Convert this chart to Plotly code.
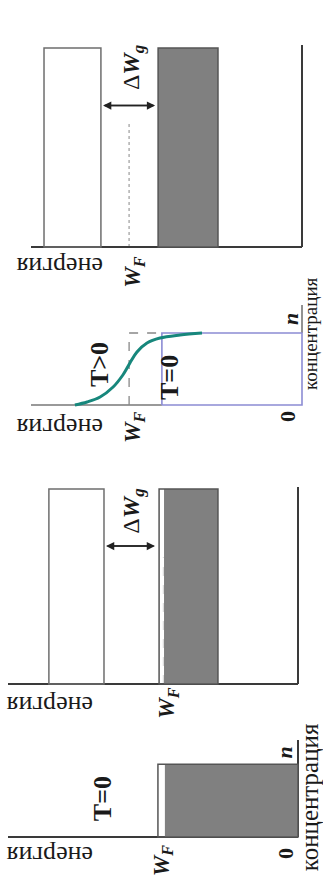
import plotly.graph_objects as go

W, H = 323, 884
FONT = "Liberation Serif"

# ---------------- data (energy in arbitrary units, concentration normalised) -------------
E_MAX = 10
# Panel A: intrinsic semiconductor, W_F in mid gap
a_cb = [7.42, 9.52]
a_vb = [3.10, 5.31]
a_band_top = 0.985
a_wf = 6.38
a_wf_top = 0.62
a_arrow = [7.34, 5.42]
a_arrow_c = 0.70
# Panel B: Fermi distribution
b_step_E = 5.17
b_n = 0.72
b_wf = 6.38
b_curve_E = [8.38, 7.93, 7.45, 6.97, 6.61, 6.35, 6.09, 5.72, 5.24, 4.50, 3.69]
b_curve_c = [0.00, 0.03, 0.08, 0.18, 0.30, 0.42, 0.53, 0.62, 0.67, 0.70, 0.72]
# Panel C: W_F at top of valence band
c_cb = [6.69, 8.59]
c_vb = [2.76, 4.79]
c_vb_fill_top = 4.62
c_band_top = 0.99
c_wf = 4.64
c_wf_top = 0.645
c_arrow = [6.62, 4.93]
c_arrow_c = 0.70
# Panel D: metal at T=0
d_fill = [0.0, 4.83]
d_fill_inner = 4.59
d_n = 0.75

fig = go.Figure()
layout_axes = {}

# pixel geometry of each panel: (corner x, left end x, corner y, top y)
GEOM = {
    1: (302, 31, 247, 45),
    2: (302, 31, 405, 305),
    3: (298, 8, 684, 487),
    4: (298, 8, 837, 740),
}

def setup(i):
    px0, px1, py0, py1 = GEOM[i]
    sx = (px0 - px1) / E_MAX
    sy = (py0 - py1)
    dl, dr = 0, W
    dt, db = max(0, py1 - 12), min(H, py0 + 45)
    sfx = "" if i == 1 else str(i)
    layout_axes["xaxis" + sfx] = dict(domain=[dl / W, dr / W],
                                      range=[(px0 - dl) / sx, (px0 - dr) / sx], visible=False,
                                      anchor="y" + sfx, fixedrange=True)
    layout_axes["yaxis" + sfx] = dict(domain=[1 - db / H, 1 - dt / H],
                                      range=[(py0 - db) / sy, (py0 - dt) / sy], visible=False,
                                      anchor="x" + sfx, fixedrange=True)
    return "x" + sfx, "y" + sfx

def line(xr, yr, xs, ys, color, width=1.6, dash="solid", shape="linear"):
    fig.add_trace(go.Scatter(x=xs, y=ys, xaxis=xr, yaxis=yr, mode="lines",
                             line=dict(color=color, width=width, dash=dash, shape=shape),
                             hoverinfo="skip", showlegend=False))

def rect(xr, yr, e0, e1, c1, line_color, fillcolor=None, width=1.5):
    fig.add_shape(type="rect", xref=xr, yref=yr, x0=e0, x1=e1, y0=0, y1=c1,
                  line=dict(color=line_color, width=width),
                  fillcolor=fillcolor if fillcolor else "rgba(0,0,0,0)")

annots = []
def text(xr, yr, e, c, s, size=24, angle=-90, color="#1a1a1a"):
    annots.append(dict(xref=xr, yref=yr, x=e, y=c, text=s, showarrow=False,
                       textangle=angle, xanchor="center", yanchor="middle",
                       font=dict(family=FONT, size=size, color=color)))

def arrow(xr, yr, e0, e1, c):
    for a, b in ((e0, e1), (e1, e0)):
        annots.append(dict(xref=xr, yref=yr, axref=xr, ayref=yr, x=b, y=c, ax=a, ay=c,
                           text="", showarrow=True, arrowhead=2, arrowsize=1.1,
                           arrowwidth=1.5, arrowcolor="#222"))

AX = "#3a3a3a"
BAND = "#6e6e6e"
FILL = "#808080"
WF_LBL = "<b><i>W</i></b><b><sub><i>F</i></sub></b>"
DW_LBL = "Δ<b><i>W</i></b><b><sub><i>g</i></sub></b>"

# ---------------- Panel A ----------------
xr, yr = setup(1)
rect(xr, yr, a_cb[0], a_cb[1], a_band_top, BAND)
rect(xr, yr, a_vb[0], a_vb[1], a_band_top, "#555", FILL)
line(xr, yr, [a_wf, a_wf], [0, a_wf_top], "#aaaaaa", 1.4, "dot")
line(xr, yr, [0, E_MAX], [0, 0], AX, 2)
line(xr, yr, [0, 0], [0, 1], AX, 2)
arrow(xr, yr, a_arrow[0], a_arrow[1], a_arrow_c)
text(xr, yr, 6.24, 0.89, DW_LBL, 24)
text(xr, yr, 6.18, -0.125, WF_LBL, 23)
text(xr, yr, 8.93, -0.10, "енергия", 26, 180)

# ---------------- Panel B ----------------
xr, yr = setup(2)
line(xr, yr, [b_step_E, E_MAX], [0, 0], "#777777", 1.6)
line(xr, yr, [b_wf, b_wf, b_step_E], [0, b_n, b_n], "#888888", 1.3, "dash")
line(xr, yr, [0, 0], [b_n, 1], "#777777", 1.6)
line(xr, yr, [b_step_E, b_step_E, 0, 0, b_step_E], [0, b_n, b_n, 0, 0], "#8c8cd4", 1.6)
line(xr, yr, b_curve_E, b_curve_c, "#17877c", 3, shape="spline")
text(xr, yr, 7.45, 0.40, "<b>T&gt;0</b>", 26)
text(xr, yr, 4.87, 0.27, "<b>T=0</b>", 26)
text(xr, yr, 0.41, 0.86, "<b><i>n</i></b>", 22)
text(xr, yr, 0.52, -0.11, "<b>0</b>", 22)
text(xr, yr, 6.20, -0.22, WF_LBL, 23)
text(xr, yr, 8.93, -0.22, "енергия", 26, 180)
text(xr, yr, -0.33, 0.72, "концентрация", 19)

# ---------------- Panel C ----------------
xr, yr = setup(3)
rect(xr, yr, c_cb[0], c_cb[1], c_band_top, BAND)
rect(xr, yr, c_vb[0], c_vb_fill_top, c_band_top, "rgba(0,0,0,0)", FILL, 0)
rect(xr, yr, c_vb[0], c_vb[1], c_band_top, "#555")
line(xr, yr, [c_wf, c_wf], [0, c_wf_top], "#dddddd", 1.4, "dash")
line(xr, yr, [0, E_MAX], [0, 0], AX, 2)
line(xr, yr, [0, 0], [0, 1], AX, 2)
arrow(xr, yr, c_arrow[0], c_arrow[1], c_arrow_c)
text(xr, yr, 5.69, 0.88, DW_LBL, 24)
text(xr, yr, 4.48, -0.10, WF_LBL, 23)
text(xr, yr, 8.55, -0.11, "енергия", 26, 180)

# ---------------- Panel D ----------------
xr, yr = setup(4)
rect(xr, yr, d_fill[0], d_fill_inner, d_n, "rgba(0,0,0,0)", FILL, 0)
rect(xr, yr, d_fill[0], d_fill[1], d_n, "#555")
line(xr, yr, [0, E_MAX], [0, 0], AX, 2)
line(xr, yr, [0, 0], [0, 1], AX, 2)
text(xr, yr, 6.76, 0.40, "<b>T=0</b>", 26)
text(xr, yr, 0.45, 0.87, "<b><i>n</i></b>", 22)
text(xr, yr, 0.45, -0.165, "<b>0</b>", 22)
text(xr, yr, 4.66, -0.24, WF_LBL, 23)
text(xr, yr, 8.55, -0.19, "енергия", 26, 180)
text(xr, yr, -0.38, 0.41, "концентрация", 25)

fig.update_layout(width=W, height=H, margin=dict(l=0, r=0, t=0, b=0),
                  paper_bgcolor="white", plot_bgcolor="rgba(0,0,0,0)",
                  annotations=annots, **layout_axes)
fig.write_html("out.html", config={"displayModeBar": False})
